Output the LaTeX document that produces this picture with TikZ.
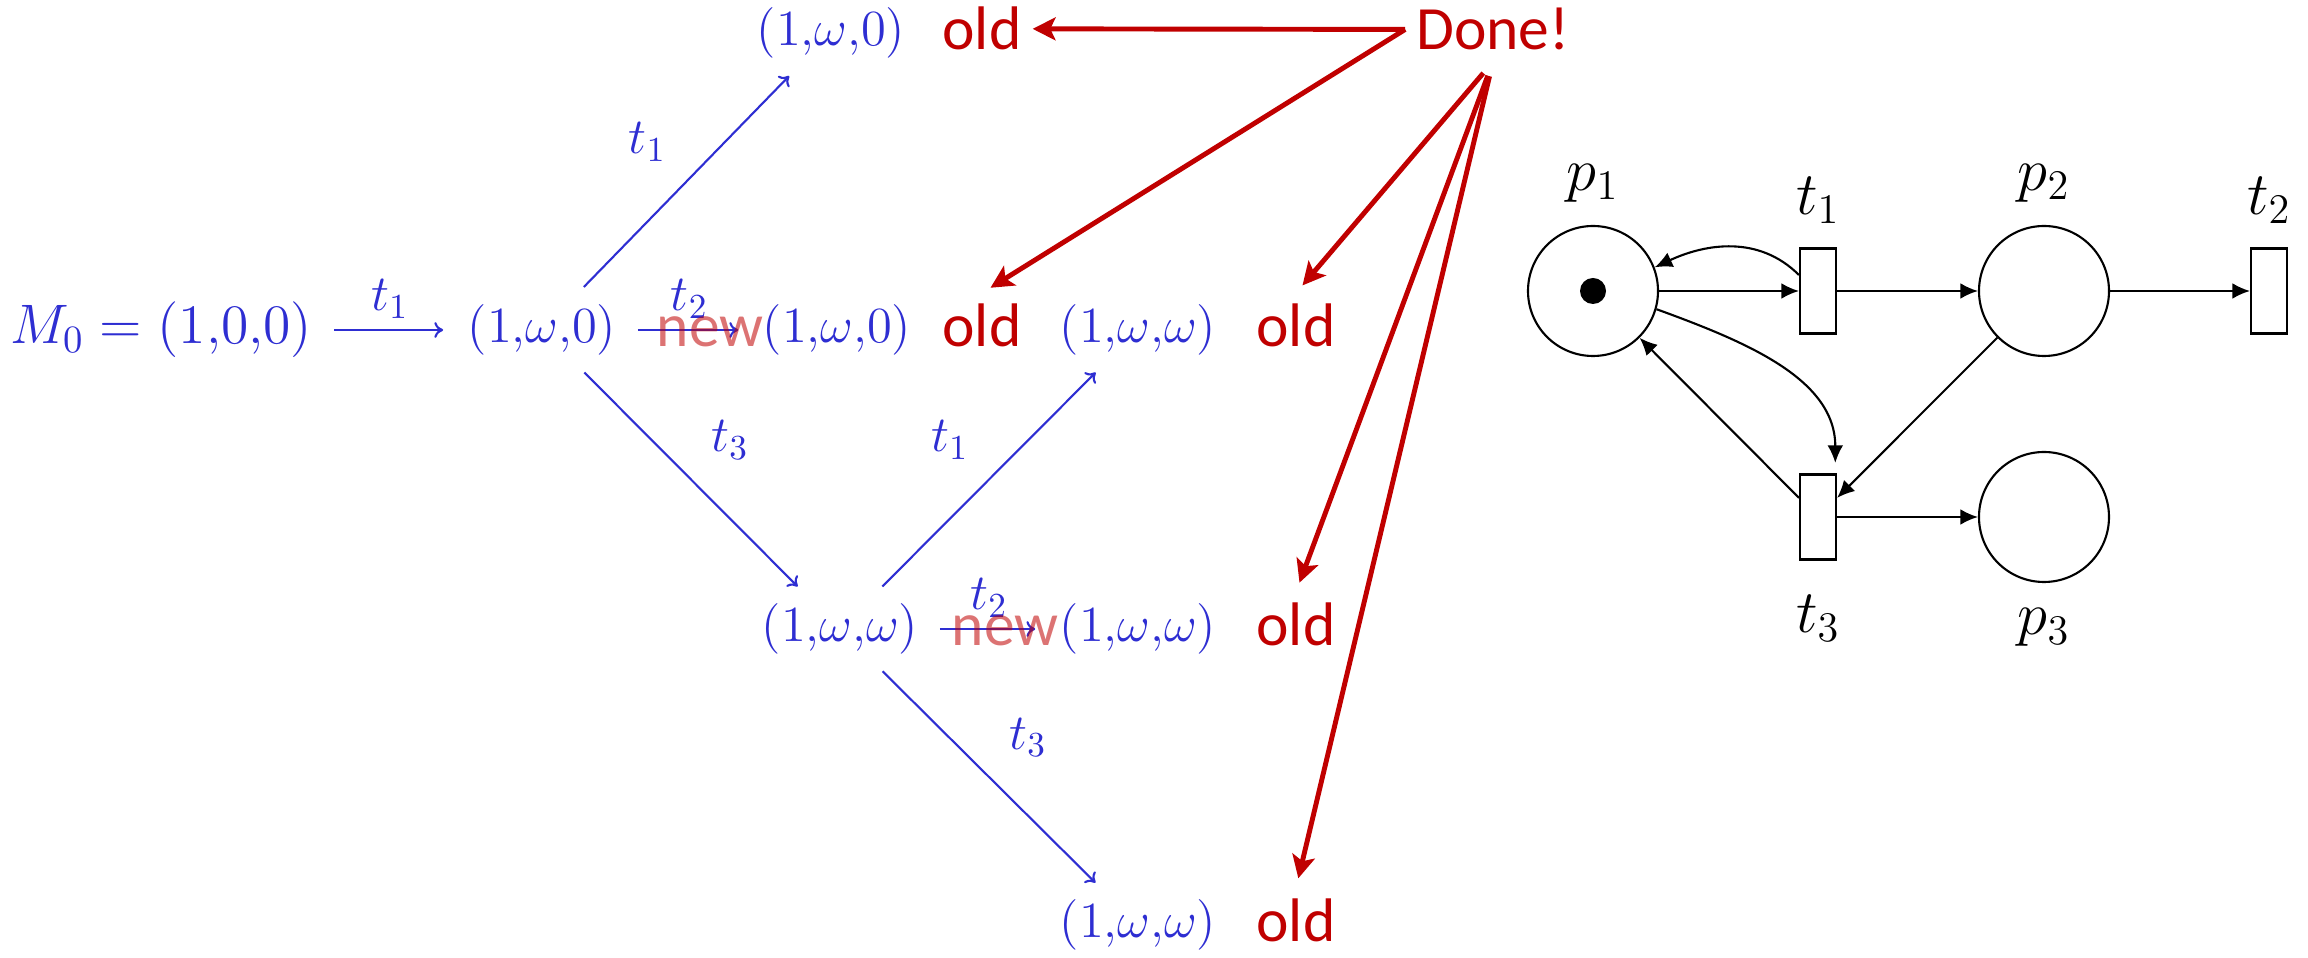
\documentclass[tikz,border=0pt]{standalone}
\usepackage{fontspec}
\usepackage{tikz}
\usetikzlibrary{positioning,arrows.meta,calc}
\newfontfamily\slidefont{Carlito}
\definecolor{markblue}{HTML}{2E2ED2}
\definecolor{slidered}{HTML}{C00000}

\begin{document}
\begin{tikzpicture}[
  marking/.style={inner sep=0pt,text=markblue,font=\fontsize{14.5}{17}\selectfont},
  tr/.style={-{To[length=2.5pt,width=4.5pt]},line width=0.6pt,draw=markblue},
  hlab/.style={above,inner sep=3pt,text=markblue,font=\fontsize{14.5}{17}\selectfont},
  dlab/.style={auto,inner sep=5.5pt,text=markblue,font=\fontsize{14.5}{17}\selectfont},
  note/.style={anchor=base,inner sep=3pt,text=slidered,font=\slidefont\fontsize{17.5}{20}\selectfont},
  newnote/.style={note,text opacity=0.55},
  red arr/.style={-{Stealth[length=6.5pt,width=6.5pt,inset=1.5pt]},line width=1.4pt,draw=slidered},
  place/.style={circle,draw,line width=0.6pt,minimum size=1.3cm,inner sep=0pt},
  trans/.style={rectangle,draw,line width=0.6pt,minimum width=0.36cm,minimum height=0.85cm,inner sep=0pt},
  pn/.style={-{Latex[length=5pt,width=4.5pt]},line width=0.6pt},
  plab/.style={inner sep=0pt,font=\fontsize{16.5}{19}\selectfont}
]
  \useasboundingbox (0,0) rectangle (23.08,9.58);

  % coverability tree
  \node[marking,anchor=east,scale=1.1,transform shape] (m0) at (3.13,6.28) {$M_0 = (1{,}0{,}0)$};
  \node[marking] (m1) at (5.42,6.28) {$(1{,}\omega{,}0)$};
  \node[marking] (m2) at (8.37,6.28) {$(1{,}\omega{,}0)$};
  \node[marking] (m3) at (11.38,6.28) {$(1{,}\omega{,}\omega)$};
  \node[marking] (m4) at (8.31,9.25) {$(1{,}\omega{,}0)$};
  \node[marking] (m5) at (8.40,3.29) {$(1{,}\omega{,}\omega)$};
  \node[marking] (m6) at (11.38,3.29) {$(1{,}\omega{,}\omega)$};
  \node[marking] (m7) at (11.38,0.33) {$(1{,}\omega{,}\omega)$};

  \draw[tr,shorten <=0.21cm,shorten >=0.24cm] (m0) -- node[hlab]{$t_1$} (m1);
  \draw[tr,shorten <=0.21cm,shorten >=0.24cm] (m1) -- node[hlab]{$t_2$} (m2);
  \draw[tr,shorten <=0.21cm,shorten >=0.24cm] (m5) -- node[hlab]{$t_2$} (m6);
  \draw[tr,shorten <=0.6cm,shorten >=0.6cm] (m1.center) -- node[dlab]{$t_1$} (m4.center);
  \draw[tr,shorten <=0.6cm,shorten >=0.6cm] (m1.center) -- node[dlab]{$t_3$} (m5.center);
  \draw[tr,shorten <=0.6cm,shorten >=0.6cm] (m5.center) -- node[dlab]{$t_1$} (m3.center);
  \draw[tr,shorten <=0.6cm,shorten >=0.6cm] (m5.center) -- node[dlab]{$t_3$} (m7.center);

  \node[note] (o4) at (9.82,9.08) {old};
  \node[note] (o2) at (9.82,6.11) {old};
  \node[note] (o3) at (12.96,6.11) {old};
  \node[note] (o6) at (12.96,3.12) {old};
  \node[note] (o7) at (12.96,0.16) {old};
  \node[note] (done) at (14.93,9.08) {Done!};
  \node[newnote] (n2) at (7.10,6.11) {new};
  \node[newnote] (n6) at (10.05,3.12) {new};

  \draw[red arr] (done.west) -- (o4.east);
  \draw[red arr,shorten >=0.1cm] (done.west) -- (o2.north);
  \draw[red arr,shorten <=0.15cm,shorten >=0.1cm] (done.south) -- (o3.north);
  \draw[red arr,shorten <=0.15cm,shorten >=0.1cm] (done.south) -- (o6.north);
  \draw[red arr,shorten <=0.15cm,shorten >=0.1cm] (done.south) -- (o7.north);

  % petri net
  \node[place] (p1) at (15.93,6.67) {};
  \fill (p1.center) circle (0.13);
  \node[trans] (t1) at (18.18,6.67) {};
  \node[place] (p2) at (20.44,6.67) {};
  \node[trans] (t2) at (22.69,6.67) {};
  \node[trans] (t3) at (18.18,4.41) {};
  \node[place] (p3) at (20.44,4.41) {};

  \node[plab,above=0.22cm of p1] (lp1) {$p_1$};
  \node[plab,above=0.23cm of t1] (lt1) {$t_1$};
  \node[plab,above=0.22cm of p2] (lp2) {$p_2$};
  \node[plab,above=0.23cm of t2] (lt2) {$t_2$};
  \node[plab,below=0.34cm of t3] (lt3) {$t_3$};
  \node[plab,below=0.25cm of p3] (lp3) {$p_3$};

  \draw[pn] (p1) -- (t1);
  \draw[pn] (t1) -- (p2);
  \draw[pn] (p2) -- (t2);
  \draw[pn] (t3) -- (p3);
  \draw[pn] (p2) -- (t3);
  \draw[pn] (t3) -- (p1);
  \draw[pn] (t1.140) to[out=135,in=25] (p1.21);
  \draw[pn,shorten >=3pt] (p1.-16) to[out=-20,in=90] ([xshift=-0.5pt]t3.north east);
\end{tikzpicture}
\end{document}
